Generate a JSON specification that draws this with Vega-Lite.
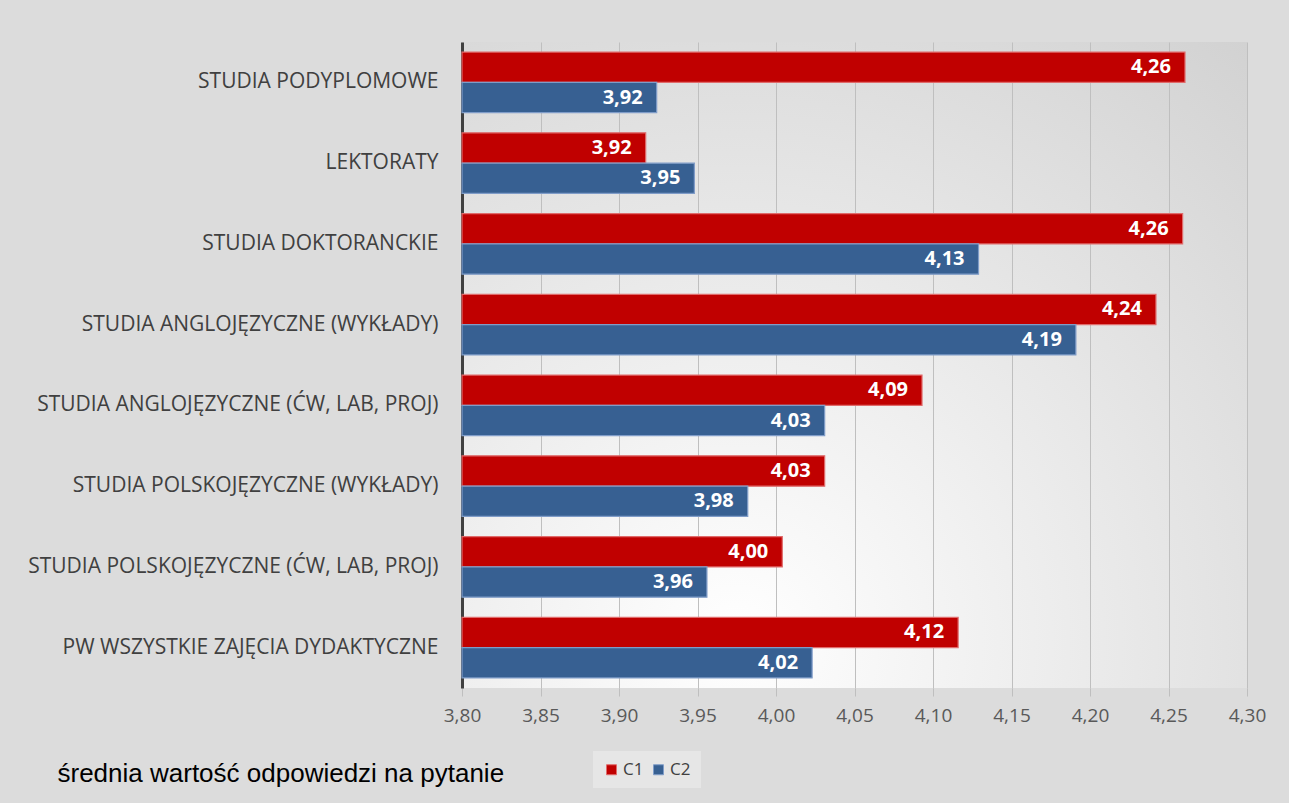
{
  "$schema": "https://vega.github.io/schema/vega-lite/v6.json",
  "autosize": {"type": "none"},
  "width": 785,
  "height": 646,
  "padding": {"left": 462, "top": 42, "right": 42, "bottom": 115},
  "background": "#dcdcdc",
  "config": {
    "locale": {"number": {"decimal": ",", "thousands": " ", "grouping": [3], "currency": ["", " zł"]}},
    "view": {"stroke": null, "fill": {"gradient": "radial", "x1": 0.35, "y1": 0.85, "r1": 0, "x2": 0.35, "y2": 0.85, "r2": 1.0, "stops": [{"offset": 0, "color": "#ffffff"}, {"offset": 1, "color": "#d2d2d2"}]}},
    "font": "Open Sans"
  },
  "data": {
    "values": [
      {"kategoria": "STUDIA PODYPLOMOWE", "seria": "C1", "wartosc": 4.2605},
      {"kategoria": "STUDIA PODYPLOMOWE", "seria": "C2", "wartosc": 3.924},
      {"kategoria": "LEKTORATY", "seria": "C1", "wartosc": 3.917},
      {"kategoria": "LEKTORATY", "seria": "C2", "wartosc": 3.948},
      {"kategoria": "STUDIA DOKTORANCKIE", "seria": "C1", "wartosc": 4.259},
      {"kategoria": "STUDIA DOKTORANCKIE", "seria": "C2", "wartosc": 4.129},
      {"kategoria": "STUDIA ANGLOJĘZYCZNE (WYKŁADY)", "seria": "C1", "wartosc": 4.242},
      {"kategoria": "STUDIA ANGLOJĘZYCZNE (WYKŁADY)", "seria": "C2", "wartosc": 4.191},
      {"kategoria": "STUDIA ANGLOJĘZYCZNE (ĆW, LAB, PROJ)", "seria": "C1", "wartosc": 4.093},
      {"kategoria": "STUDIA ANGLOJĘZYCZNE (ĆW, LAB, PROJ)", "seria": "C2", "wartosc": 4.031},
      {"kategoria": "STUDIA POLSKOJĘZYCZNE (WYKŁADY)", "seria": "C1", "wartosc": 4.031},
      {"kategoria": "STUDIA POLSKOJĘZYCZNE (WYKŁADY)", "seria": "C2", "wartosc": 3.982},
      {"kategoria": "STUDIA POLSKOJĘZYCZNE (ĆW, LAB, PROJ)", "seria": "C1", "wartosc": 4.004},
      {"kategoria": "STUDIA POLSKOJĘZYCZNE (ĆW, LAB, PROJ)", "seria": "C2", "wartosc": 3.956},
      {"kategoria": "PW WSZYSTKIE ZAJĘCIA DYDAKTYCZNE", "seria": "C1", "wartosc": 4.116},
      {"kategoria": "PW WSZYSTKIE ZAJĘCIA DYDAKTYCZNE", "seria": "C2", "wartosc": 4.023}
    ]
  },
  "encoding": {
    "y": {
      "field": "kategoria",
      "type": "nominal",
      "sort": ["STUDIA PODYPLOMOWE", "LEKTORATY", "STUDIA DOKTORANCKIE", "STUDIA ANGLOJĘZYCZNE (WYKŁADY)", "STUDIA ANGLOJĘZYCZNE (ĆW, LAB, PROJ)", "STUDIA POLSKOJĘZYCZNE (WYKŁADY)", "STUDIA POLSKOJĘZYCZNE (ĆW, LAB, PROJ)", "PW WSZYSTKIE ZAJĘCIA DYDAKTYCZNE"],
      "scale": {"paddingInner": 0.25, "paddingOuter": 0.125},
      "axis": {
        "title": null,
        "ticks": false,
        "domain": true,
        "domainColor": "#404040",
        "domainWidth": 3,
        "labelFont": "Open Sans",
        "labelFontSize": 21,
        "labelColor": "#404040",
        "labelPadding": 24,
        "labelLimit": 500
      }
    },
    "yOffset": {"field": "seria", "type": "nominal", "sort": ["C1", "C2"]},
    "x": {
      "field": "wartosc",
      "type": "quantitative",
      "stack": null,
      "scale": {"domain": [3.8, 4.3], "zero": false, "nice": false},
      "axis": {
        "values": [3.8, 3.85, 3.9, 3.95, 4.0, 4.05, 4.1, 4.15, 4.2, 4.25, 4.3],
        "format": ".2f",
        "domain": false,
        "grid": true,
        "gridColor": "#bfbfbf",
        "gridWidth": 1,
        "ticks": true,
        "tickSize": 8,
        "tickColor": "#bfbfbf",
        "labelFlush": false,
        "labelFont": "Open Sans",
        "labelFontSize": 19,
        "labelColor": "#595959",
        "labelPadding": 10,
        "title": "średnia wartość odpowiedzi na pytanie",
        "titleFont": "Liberation Sans",
        "titleFontSize": 26,
        "titleFontWeight": "normal",
        "titleColor": "#000000",
        "titleAlign": "left",
        "titleAnchor": "start",
        "titleBaseline": "middle",
        "titleX": -405,
        "titleY": 85
      }
    }
  },
  "layer": [
    {
      "mark": {"type": "bar", "strokeWidth": 1.2},
      "encoding": {
        "x2": {"datum": 3.8},
        "color": {
          "field": "seria",
          "type": "nominal",
          "scale": {"domain": ["C1", "C2"], "range": ["#c00000", "#376092"]},
          "legend": {
            "title": null,
            "orient": "none",
            "direction": "horizontal",
            "legendX": 131,
            "legendY": 709,
            "symbolType": "square",
            "symbolSize": 100,
            "symbolStrokeWidth": 1,
            "labelFont": "Open Sans",
            "labelFontSize": 17,
            "labelOffset": 3,
            "labelColor": "#404040",
            "columnPadding": 6,
            "padding": 10,
            "fillColor": "#e6e6e6"
          }
        },
        "stroke": {
          "field": "seria",
          "type": "nominal",
          "scale": {"domain": ["C1", "C2"], "range": ["#e06b6b", "#7f9cc8"]},
          "legend": null
        }
      }
    },
    {
      "mark": {"type": "text", "align": "right", "baseline": "middle", "dx": -14, "color": "#ffffff", "fontWeight": "bold", "fontSize": 20, "font": "Open Sans"},
      "encoding": {
        "text": {"field": "wartosc", "type": "quantitative", "format": ".2f"}
      }
    }
  ]
}
